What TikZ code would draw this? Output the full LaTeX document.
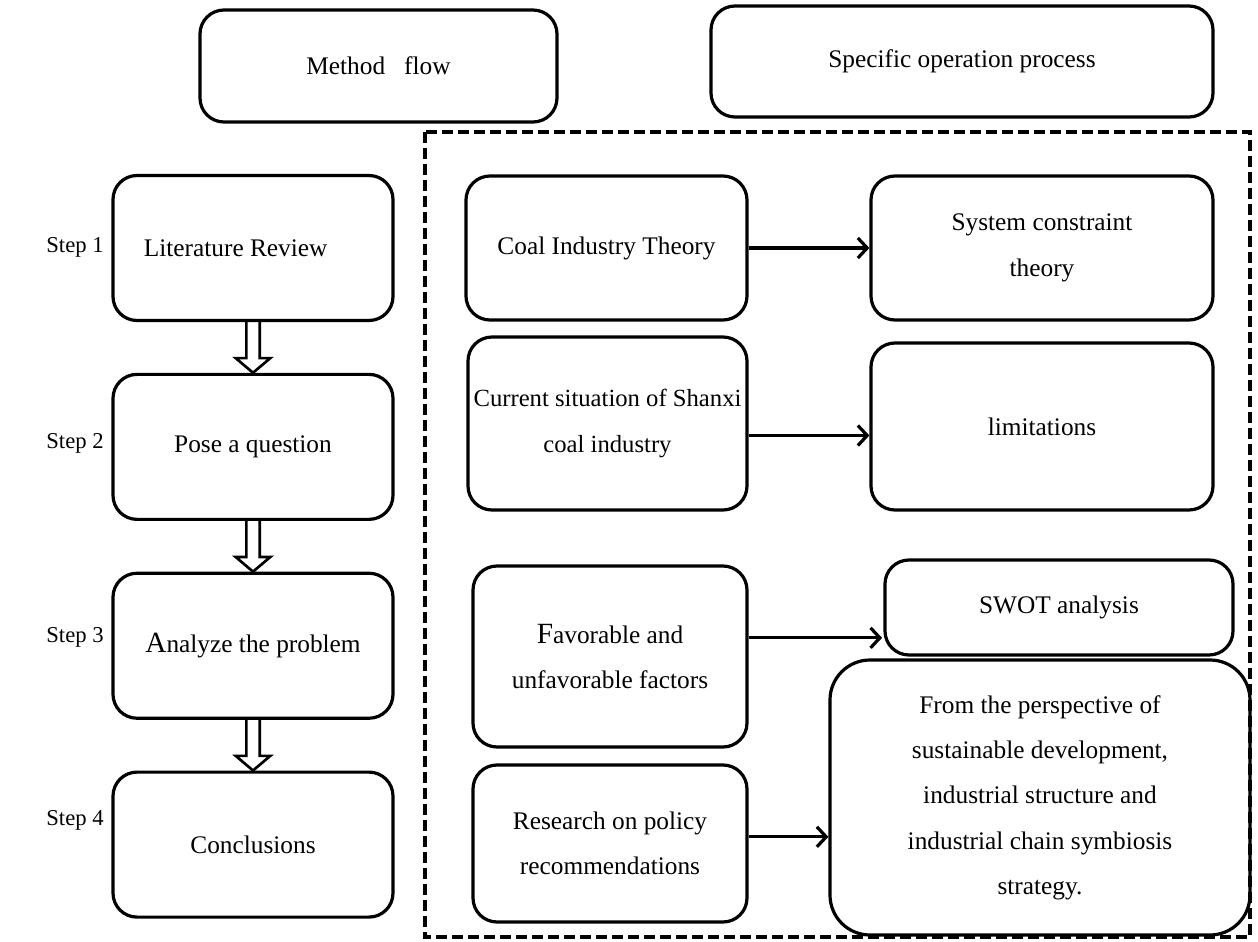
\documentclass[tikz,border=0pt]{standalone}
\usepackage{fontspec}
\setmainfont{Liberation Serif}
\usetikzlibrary{
    positioning, % relative placement
    arrows.meta  % arrow tips
}

\begin{document}
\begin{tikzpicture}[x=0.75pt, y=-0.75pt, node distance=38pt]

    % --- Styles ---
    \tikzset{
        box/.style={draw, line width=2.4pt, rounded corners=18pt, align=center,
                    inner xsep=1pt, inner ysep=4pt, font=\fontsize{19}{34}\selectfont},
        step_label/.style={font=\fontsize{17}{20}\selectfont},
        arrow/.style={line width=2.4pt, -{Straight Barb[length=7pt, width=15pt, line width=2.4pt]}},
        hollow_arrow/.style={line width=2pt, line join=miter},
        frame/.style={line width=3pt, dash pattern=on 8pt off 4pt}
    }

    \useasboundingbox (0,0) rectangle (1258,942);

    % --- Headers ---
    \node[box, minimum width=267.75pt, minimum height=84pt] (meth) at (378.5,66) {Method\ \ \ flow};
    \node[box, minimum width=376.5pt, minimum height=83.25pt] (spec) at (962,61.5) {Specific operation process};

    % --- Dashed frame ---
    \draw[frame] (425,132) rectangle (1250,937);

    % --- Method flow column ---
    \node[box, minimum width=210pt, minimum height=108.75pt] (lit) at (253,248) {\hspace*{-26pt}Literature Review};
    \node[box, minimum width=210pt, minimum height=108.75pt, below=of lit] (pose) {Pose a question};
    \node[box, minimum width=210pt, minimum height=108.75pt, below=of pose] (ana) {{\fontsize{22}{34}\selectfont A}nalyze the problem};
    \node[box, minimum width=210pt, minimum height=108.75pt, below=of ana] (concl) {Conclusions};

    \node[step_label] (s1) at (75,247) {Step 1};
    \node[step_label] (s2) at (75,443) {Step 2};
    \node[step_label] (s3) at (75,637) {Step 3};
    \node[step_label] (s4) at (75,820) {Step 4};

    % --- Hollow arrows between steps ---
    \foreach \a/\b in {lit/pose, pose/ana, ana/concl} {
        \draw[hollow_arrow] ([xshift=-5pt]\a.south) -- ([xshift=-5pt, yshift=11pt]\b.north)
            -- ([xshift=-13pt, yshift=11pt]\b.north) -- (\b.north)
            -- ([xshift=13pt, yshift=11pt]\b.north) -- ([xshift=5pt, yshift=11pt]\b.north)
            -- ([xshift=5pt]\a.south);
    }

    % --- Specific operation process ---
    \node[box, minimum width=210.75pt, minimum height=108pt] (coal) at (606.5,248) {Coal Industry Theory};
    \node[box, minimum width=256.5pt, minimum height=108pt] (sys) at (1042,248) {System constraint\\theory};
    \node[box, minimum width=209.25pt, minimum height=129.75pt, font=\fontsize{18.5}{34}\selectfont] (cur) at (607.5,423.5) {Current situation of Shanxi\\coal industry};
    \node[box, minimum width=256.5pt, minimum height=125.25pt] (lim) at (1042,426.5) {limitations};
    \node[box, minimum width=205.5pt, minimum height=135.75pt] (fav) at (610,656.5) {{\fontsize{22}{34}\selectfont F}avorable and\\unfavorable factors};
    \node[box, minimum width=261pt, minimum height=71.25pt] (swot) at (1059,607.5) {SWOT analysis};
    \node[box, minimum width=205.5pt, minimum height=117.75pt] (res) at (610,843.5) {Research on policy\\recommendations};
    \node[box, rounded corners=30pt, minimum width=315pt, minimum height=206.25pt] (persp) at (1040,797.5)
        {From the perspective of\\sustainable development,\\industrial structure and\\industrial chain symbiosis\\strategy.};

    % --- Arrows ---
    \draw[arrow] (coal.east) -- (sys.west);
    \draw[arrow] ([yshift=-9pt]cur.east) -- ([yshift=-9pt]cur.east -| lim.west);
    \draw[arrow] ([yshift=14pt]fav.east) -- ([yshift=14pt, xshift=-1pt]fav.east -| swot.west);
    \draw[arrow] ([yshift=5pt]res.east) -- ([yshift=5pt]res.east -| persp.west);

\end{tikzpicture}
\end{document}
